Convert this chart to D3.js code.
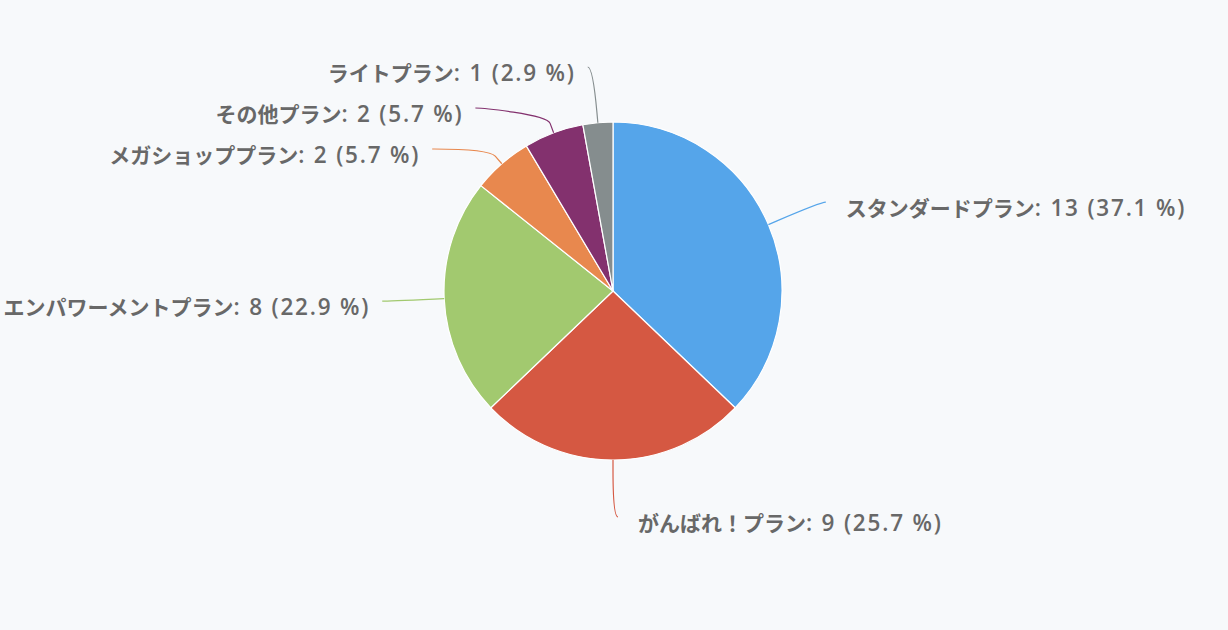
<!DOCTYPE html>
<html lang="ja">
<head>
<meta charset="UTF-8">
<script src="https://d3js.org/d3.v7.min.js"></script>
<title>プラン別</title>
<style>
  body { margin: 0; background: #f7f9fb; }
  text { font-weight: bold; fill: #686868; }
  .jp { font-family: "Noto Sans CJK JP", "Noto Sans", sans-serif; font-size: 21px; }
  .num { font-family: "Open Sans", "Noto Sans", sans-serif; font-size: 22.5px; font-weight: 600; letter-spacing: 1.8px; }
</style>
</head>
<body>
<div id="chart"></div>
<script>
var plans = ["スタンダードプラン", "がんばれ！プラン", "エンパワーメントプラン", "メガショッププラン", "その他プラン", "ライトプラン"];
var counts = [13, 9, 8, 2, 2, 1];
var colors = ["#55a5ea", "#d55842", "#a2c96f", "#e8884e", "#83316e", "#858d8e"];

var width = 1228, height = 630;
var cx = 613, cy = 291, r = 169;
var labelDist = 57, breakOff = 10, slot = 41;
var R = r + labelDist;

var total = d3.sum(counts);

var svg = d3.select("#chart").append("svg")
    .attr("width", width)
    .attr("height", height);

var pie = d3.pie().sort(null).value(d => d);
var arcs = pie(counts);
var arc = d3.arc().innerRadius(0).outerRadius(r);

var g = svg.append("g").attr("transform", "translate(" + cx + "," + cy + ")");
g.selectAll("path").data(arcs).enter().append("path")
    .attr("d", arc)
    .attr("fill", (d, i) => colors[i])
    .attr("stroke", "#fff")
    .attr("stroke-width", 1.2)
    .attr("stroke-linejoin", "round");

function pt(a, rad) {
    return [cx + rad * Math.sin(a), cy - rad * Math.cos(a)];
}

// label positions
var labels = arcs.map(function(d, i) {
    var a = (d.startAngle + d.endAngle) / 2;
    return {
        i: i,
        a: a,
        left: a > Math.PI,
        natY: pt(a, R)[1],
        name: plans[i],
        num: ": " + counts[i] + " (" + (counts[i] / total * 100).toFixed(1) + " %)"
    };
});

var minY = cy - R + 2, maxY = cy + R;

function distribute(items) {
    items.sort((a, b) => a.natY - b.natY);
    var groups = items.map(d => ({ items: [d] }));
    var merged = true;
    while (merged) {
        merged = false;
        groups.forEach(function(gr) {
            var n = gr.items.length;
            var top = d3.mean(gr.items, d => d.natY) - (n - 1) * slot / 2;
            if (top < minY) top = minY;
            if (top + (n - 1) * slot > maxY) top = maxY - (n - 1) * slot;
            gr.top = top;
        });
        for (var k = 0; k < groups.length - 1; k++) {
            var g1 = groups[k], g2 = groups[k + 1];
            if (g1.top + g1.items.length * slot > g2.top) {
                g1.items = g1.items.concat(g2.items);
                groups.splice(k + 1, 1);
                merged = true;
                break;
            }
        }
    }
    groups.forEach(function(gr) {
        gr.items.forEach(function(d, k) {
            d.y = gr.top + k * slot;
            var useY = (d.y <= minY + 0.5 || d.y >= maxY - 0.5) ? d.natY : d.y;
            var dy = Math.max(-R, Math.min(R, useY - cy));
            var dx = Math.sqrt(R * R - dy * dy) + 5;
            d.x = d.left ? cx - dx : cx + dx;
        });
    });
}
distribute(labels.filter(d => d.left));
distribute(labels.filter(d => !d.left));

// connectors
svg.append("g").selectAll("path").data(labels).enter().append("path")
    .attr("fill", "none")
    .attr("stroke", d => colors[d.i])
    .attr("stroke-width", 1.2)
    .attr("d", function(d) {
        var t = pt(d.a, r), b = pt(d.a, r + breakOff);
        var c1x = d.x + (d.left ? 5 : -5);
        return "M" + d.x + "," + d.y +
            "C" + c1x + "," + d.y + " " + (2 * b[0] - t[0]) + "," + (2 * b[1] - t[1]) + " " + b[0] + "," + b[1] +
            "L" + t[0] + "," + t[1];
    });

var txt = svg.append("g").selectAll("text").data(labels).enter().append("text")
    .attr("x", d => d.left ? d.x - 12 : d.x + 20)
    .attr("y", d => d.y + 14)
    .attr("text-anchor", d => d.left ? "end" : "start");
txt.append("tspan").attr("class", "jp").text(d => d.name);
txt.append("tspan").attr("class", "num").text(d => d.num);
</script>
</body>
</html>
